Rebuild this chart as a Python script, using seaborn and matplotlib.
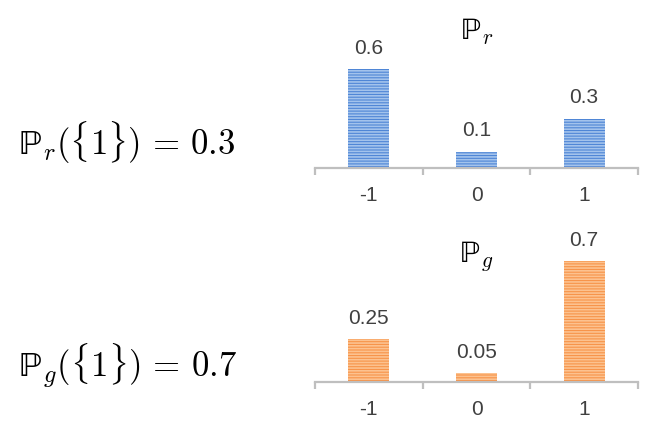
import pandas as pd
import seaborn as sns
from matplotlib import pyplot as plt

# データ
categories = ["-1", "0", "1"]
p_r = [0.6, 0.1, 0.3]
p_g = [0.25, 0.05, 0.7]
titles = [r"$\mathrm{\mathbb{P}}_r$", r"$\mathrm{\mathbb{P}}_g$"]
side_texts = [r"$\mathrm{\mathbb{P}}_r(\{1\})\,=\,0.3$",
              r"$\mathrm{\mathbb{P}}_g(\{1\})\,=\,0.7$"]

sns.set_style("white")
plt.rcParams["font.family"] = ["Liberation Sans", "DejaVu Sans"]
plt.rcParams["mathtext.fontset"] = "cm"
plt.rcParams["hatch.linewidth"] = 1.2

fig = plt.figure(figsize=(6.46, 4.41), dpi=100)
W, H = 646, 441

gray = "#bfbfbf"
textc = "#404040"

# (値, 塗り色, 縞の色, 軸の下端px, 軸の高さpx, タイトル位置)
panels = [
    (p_r, "#4f86d6", "#a3c3ec", 168, 132, 0.97),
    (p_g, "#f7944a", "#fcc28f", 382, 138, 0.872),
]
baselines = [155, 377]

for i, (vals, face, stripe, ybot, hpx, ty) in enumerate(panels):
    ax = fig.add_axes([315 / W, (H - ybot) / H, 323 / W, hpx / H])
    df = pd.DataFrame({"x": categories, "p": vals})
    sns.barplot(data=df, x="x", y="p", color=face, saturation=1, width=0.38,
                hatch="------", edgecolor=stripe, linewidth=0, ax=ax)
    ax.bar_label(ax.containers[0], labels=[str(v) for v in vals], padding=8,
                 fontsize=15, color=textc)
    ax.set_xlim(-0.5, 2.5)
    ax.set_ylim(0, 0.8)
    ax.set_xlabel("")
    ax.set_ylabel("")
    ax.set_yticks([])
    for s in ["top", "left", "right"]:
        ax.spines[s].set_visible(False)
    ax.spines["bottom"].set_color(gray)
    ax.spines["bottom"].set_linewidth(1.6)
    ax.set_xticks([-0.5, 0.5, 1.5, 2.5], minor=True)
    ax.tick_params(axis="x", which="minor", length=5, width=1.6, color=gray,
                   direction="out", bottom=True)
    ax.tick_params(axis="x", which="major", length=0, pad=13, labelsize=15,
                   labelcolor=textc)
    ax.text(0.5, ty, titles[i], transform=ax.transAxes, ha="center",
            va="baseline", fontsize=22, color="black")
    fig.text(18 / W, 1 - baselines[i] / H, side_texts[i], ha="left",
             va="baseline", fontsize=25, color="black")

fig.savefig("out.png", dpi=100)
